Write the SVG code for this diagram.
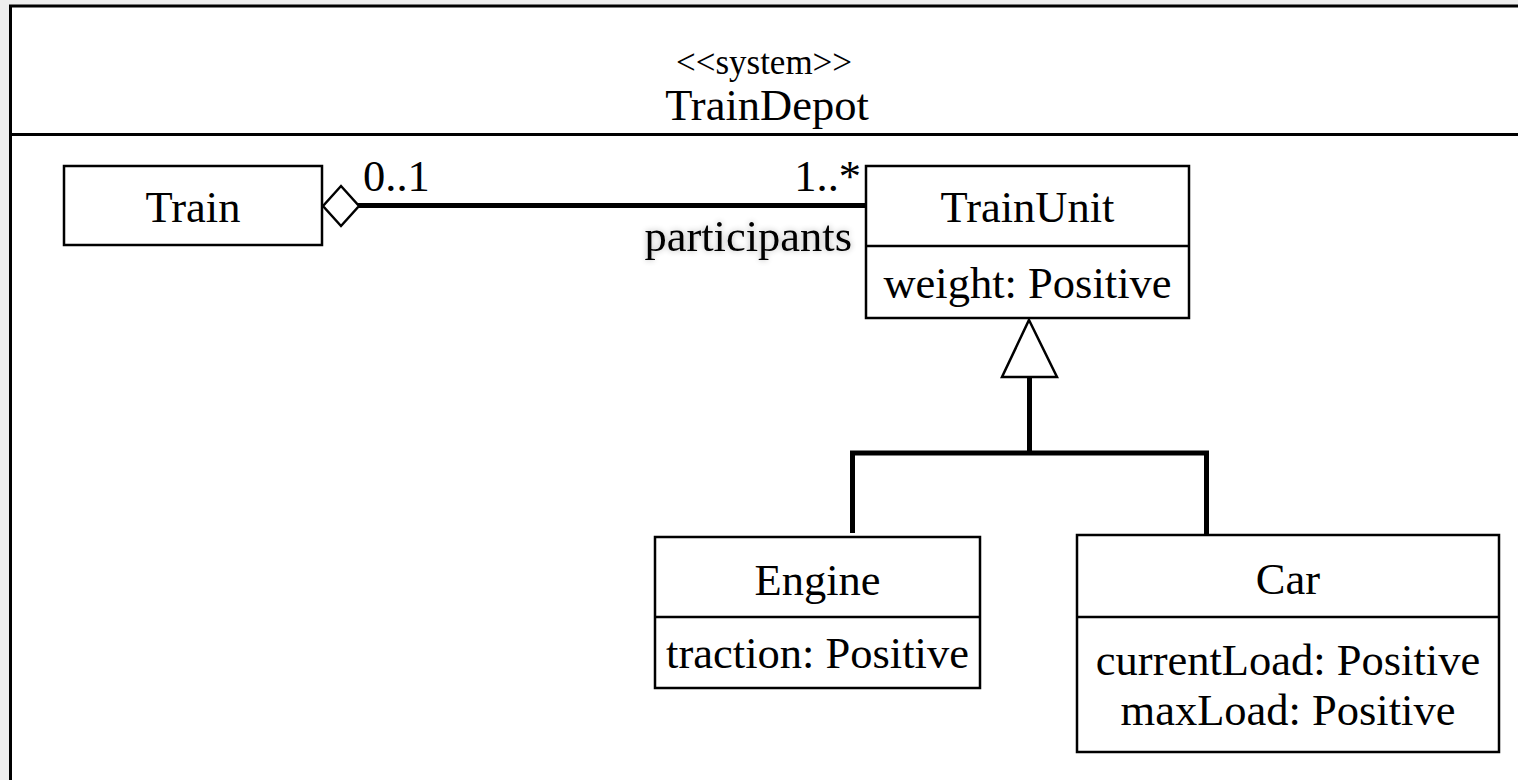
<svg xmlns="http://www.w3.org/2000/svg" width="1518" height="780" viewBox="0 0 1518 780">
  <style>
    .box { fill: #ffffff; stroke: #000000; stroke-width: 2.5; }
    .sep { stroke: #000000; stroke-width: 2.5; fill: none; }
    .lbl { font-family: "Liberation Serif", "Times New Roman", serif; font-size: 44.5px; fill: #000000; }
    .small { font-size: 35px; }
    .mid { text-anchor: middle; }
    .end { text-anchor: end; }
    .conn { stroke: #000000; stroke-width: 5; fill: none; }
    .head { fill: #ffffff; stroke: #000000; stroke-width: 2.5; stroke-linejoin: miter; }
  </style>
  <defs>
    <filter id="halo" x="-10%" y="-30%" width="120%" height="160%">
      <feGaussianBlur in="SourceAlpha" stdDeviation="3"/>
      <feComponentTransfer>
        <feFuncA type="linear" slope="0.3"/>
      </feComponentTransfer>
      <feMerge>
        <feMergeNode/>
        <feMergeNode in="SourceGraphic"/>
      </feMerge>
    </filter>
  </defs>

  <!-- canvas backdrop -->
  <rect x="0" y="0" width="1518" height="780" fill="#eeeeee"/>

  <!-- system frame -->
  <g id="system-TrainDepot">
    <rect x="10.5" y="6" width="1530" height="800" fill="#ffffff" stroke="#000000" stroke-width="3"/>
    <line x1="10.5" y1="134.5" x2="1518" y2="134.5" stroke="#000000" stroke-width="3"/>
    <text class="lbl small mid" x="764" y="74">&lt;&lt;system&gt;&gt;</text>
    <text class="lbl mid" x="767" y="120">TrainDepot</text>
  </g>

  <!-- connectors -->
  <g id="connectors">
    <!-- aggregation Train <>- TrainUnit -->
    <line class="conn" x1="358" y1="205.5" x2="866" y2="205.5"/>
    <polygon class="head" points="323,206 341,186 359,206 341,226"/>
    <text class="lbl" x="363" y="191">0..1</text>
    <text class="lbl end" x="861" y="191">1..*</text>
    <text class="lbl end" x="852" y="251" filter="url(#halo)">participants</text>

    <!-- generalization Engine, Car -> TrainUnit -->
    <polyline class="conn" points="852.5,533 852.5,453 1206.5,453 1206.5,534"/>
    <line class="conn" x1="1029.5" y1="453" x2="1029.5" y2="377"/>
    <polygon class="head" points="1029,320 1057,377 1002,377"/>
  </g>

  <!-- classes -->
  <g id="class-Train">
    <rect class="box" x="64" y="166" width="258" height="79"/>
    <text class="lbl mid" x="193" y="222">Train</text>
  </g>

  <g id="class-TrainUnit">
    <rect class="box" x="866" y="166" width="323" height="152"/>
    <line class="sep" x1="866" y1="246" x2="1189" y2="246"/>
    <text class="lbl mid" x="1027.5" y="222">TrainUnit</text>
    <text class="lbl mid" x="1027.5" y="298">weight: Positive</text>
  </g>

  <g id="class-Engine">
    <rect class="box" x="655" y="537" width="325" height="151"/>
    <line class="sep" x1="655" y1="617" x2="980" y2="617"/>
    <text class="lbl mid" x="817.5" y="595">Engine</text>
    <text class="lbl mid" x="817.5" y="668">traction: Positive</text>
  </g>

  <g id="class-Car">
    <rect class="box" x="1077" y="535" width="422" height="217"/>
    <line class="sep" x1="1077" y1="617" x2="1499" y2="617"/>
    <text class="lbl mid" x="1288" y="594">Car</text>
    <text class="lbl mid" x="1288" y="675">currentLoad: Positive</text>
    <text class="lbl mid" x="1288" y="725">maxLoad: Positive</text>
  </g>
</svg>
